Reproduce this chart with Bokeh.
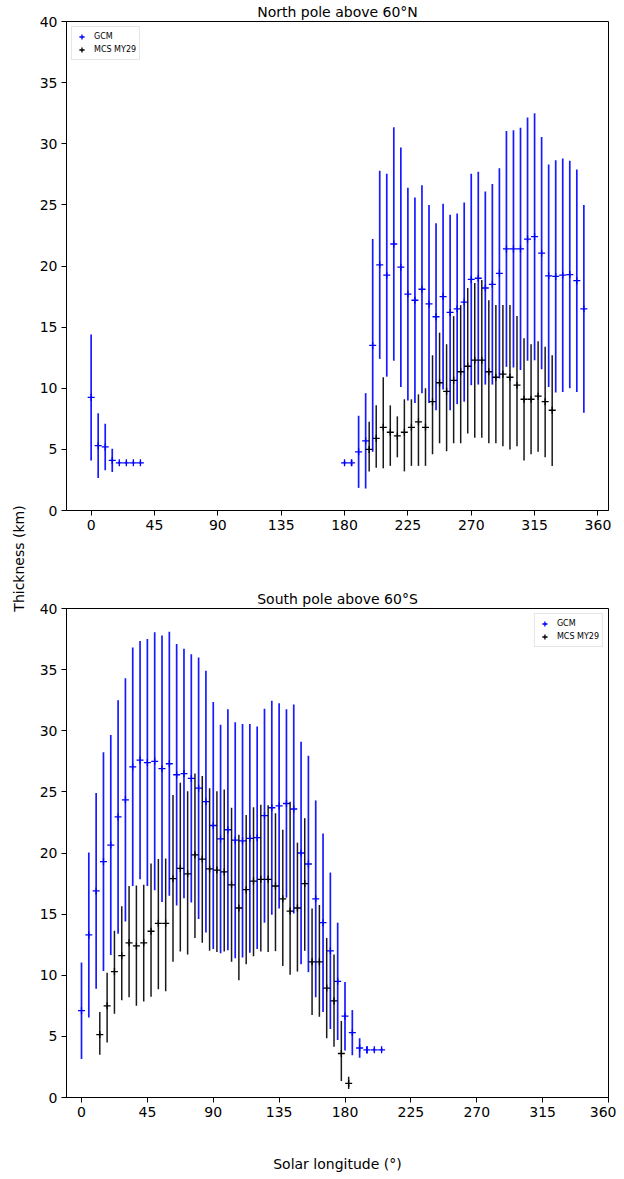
import numpy as np
from bokeh.plotting import figure
from bokeh.models import ColumnDataSource, Range1d, FixedTicker, Legend, LegendItem
from bokeh.layouts import row, column
from bokeh.core.properties import value
from bokeh.embed import file_html
from bokeh.resources import INLINE

FONT = "DejaVu Sans"
BLUE = "#0000ff"
BLACK = "#000000"

x_ticks = [0, 45, 90, 135, 180, 225, 270, 315, 360]
y_ticks = [0, 5, 10, 15, 20, 25, 30, 35, 40]

# ---- North pole above 60N ----
gcm_north_ls = [0, 5, 10, 15, 20, 25, 30, 35,
                180, 185, 190, 195, 200, 205, 210, 215, 220, 225, 230, 235,
                240, 245, 250, 255, 260, 265, 270, 275, 280, 285, 290, 295,
                300, 305, 310, 315, 320, 325, 330, 335, 340, 345, 350]
gcm_north_mean = [9.25, 5.3, 5.2, 4.1, 3.9, 3.9, 3.9, 3.9,
                  3.9, 3.9, 4.8, 5.7, 13.5, 20.1, 19.25, 21.8, 19.9, 17.7, 17.2, 18.1,
                  16.9, 15.85, 17.5, 16.2, 16.5, 17.05, 18.9, 19.0, 18.2, 18.5, 19.4, 21.4,
                  21.4, 21.4, 22.2, 22.4, 21.05, 19.2, 19.15, 19.25, 19.3, 18.8, 16.5]
gcm_north_err = [5.15, 2.65, 1.9, 0.95, 0.1, 0.1, 0.1, 0.1,
                 0.12, 0.25, 2.95, 3.9, 8.7, 7.7, 8.3, 9.55, 9.8, 8.7, 8.4, 8.5,
                 8.1, 7.65, 7.6, 8.0, 7.8, 8.15, 8.65, 8.7, 7.9, 8.2, 8.6, 9.65,
                 9.7, 9.9, 9.95, 10.1, 9.5, 9.1, 9.5, 9.55, 9.3, 9.1, 8.5]

mcs_north_ls = [197.5, 202.5, 207.5, 212.5, 217.5, 222.5, 227.5, 232.5, 237.5,
                242.5, 247.5, 252.5, 257.5, 262.5, 267.5, 272.5, 277.5, 282.5,
                287.5, 292.5, 297.5, 302.5, 307.5, 312.5, 317.5, 322.5, 327.5]
mcs_north_mean = [5.0, 5.9, 6.8, 6.4, 6.1, 6.4, 6.8, 7.25, 6.8,
                  8.9, 10.45, 9.75, 10.65, 11.35, 11.8, 12.3, 12.3, 11.35,
                  10.9, 11.15, 10.9, 10.25, 9.1, 9.1, 9.35, 8.9, 8.2]
mcs_north_low = [3.2, 3.5, 3.45, 3.65, 4.35, 3.2, 3.65, 3.65, 3.65,
                 4.6, 5.5, 4.85, 5.5, 5.5, 6.3, 5.95, 5.95, 5.5,
                 5.5, 5.25, 5.0, 5.25, 4.1, 4.6, 4.8, 4.35, 3.65]
mcs_north_high = [7.25, 8.6, 10.9, 8.6, 7.7, 9.1, 9.1, 9.5, 10.0,
                  12.7, 14.55, 13.6, 15.9, 16.8, 18.2, 18.6, 18.85, 17.2,
                  16.8, 16.8, 16.8, 15.9, 14.1, 13.6, 13.85, 13.4, 12.7]

# ---- South pole above 60S ----
gcm_south_ls = [0, 5, 10, 15, 20, 25, 30, 35, 40, 45,
                50, 55, 60, 65, 70, 75, 80, 85, 90, 95,
                100, 105, 110, 115, 120, 125, 130, 135, 140, 145,
                150, 155, 160, 165, 170, 175, 180, 185, 190, 195,
                200, 205]
gcm_south_mean = [7.1, 13.3, 16.9, 19.3, 20.65, 22.95, 24.35, 27.05, 27.6, 27.4,
                  27.5, 26.9, 27.3, 26.4, 26.5, 26.1, 25.3, 24.2, 22.25, 21.15,
                  21.9, 21.05, 21.0, 21.2, 21.25, 23.05, 23.7, 23.85, 24.05, 23.6,
                  20.0, 19.1, 16.25, 14.3, 12.0, 9.5, 6.65, 5.3, 4.05, 3.9,
                  3.9, 3.9]
gcm_south_err = [3.95, 6.75, 8.0, 8.95, 9.0, 9.55, 9.95, 9.75, 9.75, 10.1,
                 10.55, 10.9, 10.8, 10.7, 10.2, 10.15, 10.7, 10.7, 10.1, 9.35,
                 9.85, 9.65, 9.55, 9.35, 9.1, 8.75, 8.75, 8.4, 7.7, 8.55,
                 9.1, 8.85, 8.05, 7.3, 6.4, 4.8, 2.8, 1.85, 0.8, 0.3,
                 0.12, 0.1]

mcs_south_ls = [12.5, 17.5, 22.5, 27.5, 32.5, 37.5, 42.5, 47.5, 52.5, 57.5,
                62.5, 67.5, 72.5, 77.5, 82.5, 87.5, 92.5, 97.5, 102.5, 107.5,
                112.5, 117.5, 122.5, 127.5, 132.5, 137.5, 142.5, 147.5, 152.5, 157.5,
                162.5, 167.5, 172.5, 177.5, 182.5]
mcs_south_mean = [5.15, 7.5, 10.3, 11.6, 12.65, 12.4, 12.65, 13.6, 14.25, 14.25,
                  17.9, 18.75, 18.3, 19.85, 19.5, 18.7, 18.6, 18.45, 17.4, 15.5,
                  17.0, 17.7, 17.85, 17.85, 17.3, 16.25, 15.25, 15.5, 17.5, 11.1,
                  11.1, 8.95, 7.9, 3.6, 1.15]
mcs_south_low = [3.5, 4.5, 6.85, 7.95, 8.2, 7.5, 7.85, 8.25, 8.85, 8.7,
                 11.1, 11.95, 11.7, 13.05, 12.65, 12.0, 11.9, 11.95, 11.1, 9.6,
                 10.9, 11.55, 11.95, 11.9, 11.97, 10.75, 10.05, 10.3, 12.0, 6.75,
                 6.6, 4.85, 4.15, 1.35, 0.7]
mcs_south_high = [7.0, 10.2, 13.65, 15.65, 17.3, 17.35, 17.4, 19.15, 19.5, 19.55,
                  24.75, 25.75, 25.05, 26.5, 26.3, 25.3, 25.05, 25.2, 23.7, 21.5,
                  23.1, 23.75, 23.95, 23.9, 23.25, 21.9, 24.2, 20.85, 22.85, 15.45,
                  15.75, 13.05, 11.7, 6.25, 1.7]


def blank_fig(w, h):
    f = figure(width=w, height=h, x_range=Range1d(0, w), y_range=Range1d(0, h),
               x_axis_type=None, y_axis_type=None, min_border=0,
               output_backend="svg", toolbar_location=None)
    f.grid.grid_line_color = None
    f.outline_line_color = None
    return f


def make_panel(title, x_lo, x_hi, g_ls, g_mean, g_err, m_ls, m_mean, m_low, m_high,
               legend_loc, border_bottom):
    p = figure(frame_width=542, frame_height=489,
               x_range=Range1d(x_lo, x_hi), y_range=Range1d(0, 40),
               min_border_left=28, min_border_right=8, min_border_top=21,
               min_border_bottom=border_bottom,
               output_backend="svg", toolbar_location=None)
    p.title.text = title
    p.title.text_font = FONT
    p.title.text_font_size = "14px"
    p.title.text_font_style = "normal"
    p.title.text_color = BLACK
    p.title.align = "center"
    p.title.standoff = 3

    p.grid.grid_line_color = None
    p.outline_line_color = BLACK
    p.outline_line_width = 1
    p.xaxis.ticker = FixedTicker(ticks=x_ticks)
    p.yaxis.ticker = FixedTicker(ticks=y_ticks)
    for ax in (p.xaxis, p.yaxis):
        ax.axis_line_color = BLACK
        ax.major_tick_line_color = BLACK
        ax.minor_tick_line_color = None
        ax.major_tick_in = 0
        ax.major_tick_out = 5
        ax.major_label_text_font = FONT
        ax.major_label_text_font_size = "14px"
        ax.major_label_text_color = BLACK
        ax.major_label_standoff = 4

    g_mean = np.array(g_mean)
    g_err = np.array(g_err)
    g_src = ColumnDataSource(dict(ls=g_ls, mean=g_mean,
                                  lo=g_mean - g_err, hi=g_mean + g_err))
    m_src = ColumnDataSource(dict(ls=m_ls, mean=m_mean, lo=m_low, hi=m_high))

    p.segment("ls", "lo", "ls", "hi", source=g_src, line_color=BLUE, line_width=1.7,
              line_alpha=0.9)
    g_pts = p.scatter("ls", "mean", source=g_src, marker="cross", size=7,
                      line_color=BLUE, line_width=1.3)
    p.segment("ls", "lo", "ls", "hi", source=m_src, line_color=BLACK, line_width=1.5,
              line_alpha=0.9)
    m_pts = p.scatter("ls", "mean", source=m_src, marker="cross", size=7,
                      line_color=BLACK, line_width=1.3)

    legend = Legend(items=[LegendItem(label="GCM", renderers=[g_pts]),
                           LegendItem(label="MCS MY29", renderers=[m_pts])],
                    location=legend_loc)
    legend.label_text_font = FONT
    legend.label_text_font_size = "8px"
    legend.label_text_color = BLACK
    legend.glyph_width = 13
    legend.glyph_height = 13
    legend.label_height = 13
    legend.label_standoff = 6
    legend.spacing = 0
    legend.padding = 3
    legend.margin = 5
    legend.border_line_color = "#cccccc"
    legend.border_line_width = 1
    legend.background_fill_alpha = 0.8
    p.add_layout(legend)
    return p


top = make_panel("North pole above 60°N", -17.5, 367.5,
                 gcm_north_ls, gcm_north_mean, gcm_north_err,
                 mcs_north_ls, mcs_north_mean, mcs_north_low, mcs_north_high,
                 "top_left", 77)
bottom = make_panel("South pole above 60°S", -10.25, 360,
                    gcm_south_ls, gcm_south_mean, gcm_south_err,
                    mcs_south_ls, mcs_south_mean, mcs_south_low, mcs_south_high,
                    "top_right", 28)

xlab = blank_fig(578, 48)
xlab.text(x=[290], y=[10], text=["Solar longitude (°)"], text_align="center",
          text_baseline="middle", text_font=value(FONT), text_font_size="14px",
          text_color=BLACK)

total_h = 587 + 538 + 48
ylab = blank_fig(36, total_h)
ylab.text(x=[18], y=[total_h - 558], text=["Thickness (km)"], angle=np.pi / 2,
          text_align="center", text_baseline="middle", text_font=value(FONT),
          text_font_size="14px", text_color=BLACK)

p = row(ylab, column(top, bottom, xlab))

open("out.html", "w").write(file_html(p, INLINE))
